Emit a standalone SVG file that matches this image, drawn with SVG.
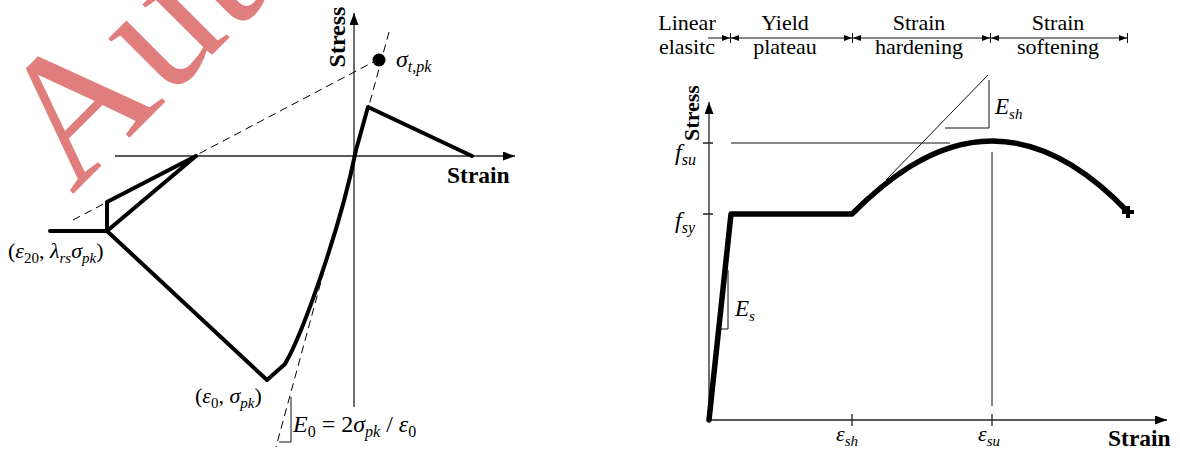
<svg xmlns="http://www.w3.org/2000/svg" width="1180" height="455" viewBox="0 0 1180 455">
<style>
.t{font-family:"Liberation Serif","Times New Roman",serif;fill:#000}
.i{font-style:italic}
.b{font-weight:bold}
.ax{stroke:#222;stroke-width:1.3;fill:none}
.thin{stroke:#111;stroke-width:1;fill:none}
.dash{stroke:#000;stroke-width:1;fill:none;stroke-dasharray:8,5}
.thk{stroke:#000;stroke-width:4;fill:none;stroke-linejoin:round;stroke-linecap:round}
.thk5{stroke:#000;stroke-width:5.5;fill:none;stroke-linejoin:round;stroke-linecap:round}
</style>
<defs>
<marker id="ah" markerUnits="userSpaceOnUse" markerWidth="13" markerHeight="10" refX="12" refY="4.5" orient="auto"><path d="M0,0 L12,4.5 L0,9 z" fill="#000"/></marker>
<marker id="dh" markerUnits="userSpaceOnUse" markerWidth="9" markerHeight="7" refX="8" refY="3" orient="auto-start-reverse"><path d="M0,0 L8,3 L0,6 z" fill="#000"/></marker>
</defs>
<rect width="1180" height="455" fill="#fff"/>
<g id="watermark">
<text class="t" x="0" y="0" transform="translate(72,195) rotate(-45)" font-size="185" style="fill:#e07e7e">Aut</text>
</g>

<!-- LEFT DIAGRAM -->
<g id="left-axes">
<line class="ax" x1="115" y1="156" x2="515" y2="156" marker-end="url(#ah)"/>
<line class="ax" x1="354" y1="407" x2="354" y2="13" marker-end="url(#ah)"/>
<text class="t b" font-size="24" transform="translate(345,37) rotate(-90)" text-anchor="middle">Stress</text>
<text class="t b" x="447" y="183" font-size="23.5">Strain</text>
</g>
<g id="left-connectors">
<line class="dash" x1="73" y1="220" x2="379" y2="59"/>
<line class="dash" x1="389" y1="32" x2="276" y2="447"/>
<path class="thin" d="M279,442 L291,442 L291,397"/>
</g>
<g id="left-curve">
<path class="thk" d="M50,231 L107,231 L107,202 L196,156 M107,231 L196,156 M107,231 L267,380 L285,364 C302,335 340,230 356,150 L368,107 L472,156"/>
<circle cx="379" cy="60" r="6.5" fill="#000"/>
</g>
<g id="left-labels">
<text class="t i" x="396" y="67" font-size="24">σ<tspan font-size="16" dy="5">t,pk</tspan></text>
<text class="t" x="8" y="258" font-size="22">(<tspan class="i">ε</tspan><tspan font-size="15" dy="5">20</tspan><tspan dy="-5">, </tspan><tspan class="i">λ</tspan><tspan class="i" font-size="15" dy="5">rs</tspan><tspan class="i" dy="-5">σ</tspan><tspan class="i" font-size="15" dy="5">pk</tspan><tspan dy="-5">)</tspan></text>
<text class="t" x="195" y="403" font-size="22">(<tspan class="i">ε</tspan><tspan font-size="15" dy="5">0</tspan><tspan dy="-5">, </tspan><tspan class="i">σ</tspan><tspan class="i" font-size="15" dy="5">pk</tspan><tspan dy="-5">)</tspan></text>
<text class="t" x="293" y="432" font-size="24"><tspan class="i">E</tspan><tspan font-size="16" dy="5">0</tspan><tspan dy="-5"> = 2</tspan><tspan class="i">σ</tspan><tspan class="i" font-size="16" dy="5">pk</tspan><tspan dy="-5"> / </tspan><tspan class="i">ε</tspan><tspan font-size="16" dy="5">0</tspan></text>
</g>

<!-- RIGHT DIAGRAM -->
<g id="phases">
<line class="thin" x1="708" y1="38" x2="730" y2="38" marker-end="url(#dh)"/>
<line class="thin" x1="731" y1="38" x2="852" y2="38" marker-start="url(#dh)" marker-end="url(#dh)"/>
<line class="thin" x1="853" y1="38" x2="990" y2="38" marker-start="url(#dh)" marker-end="url(#dh)"/>
<line class="thin" x1="991" y1="38" x2="1127" y2="38" marker-start="url(#dh)" marker-end="url(#dh)"/>
<path class="thin" d="M730.5,33 V43 M852.5,33 V43 M990.5,33 V43 M1127.5,33 V43"/>
<text class="t" font-size="22" text-anchor="middle"><tspan x="687" y="30">Linear</tspan><tspan x="687" y="54">elasitc</tspan></text>
<text class="t" font-size="22" text-anchor="middle"><tspan x="785" y="30">Yield</tspan><tspan x="785" y="54">plateau</tspan></text>
<text class="t" font-size="22" text-anchor="middle"><tspan x="919" y="30">Strain</tspan><tspan x="919" y="54">hardening</tspan></text>
<text class="t" font-size="22" text-anchor="middle"><tspan x="1058" y="30">Strain</tspan><tspan x="1058" y="54">softening</tspan></text>
</g>
<g id="right-axes">
<line class="ax" x1="709" y1="420" x2="1167" y2="420" marker-end="url(#ah)"/>
<line class="ax" x1="709" y1="420" x2="709" y2="102" marker-end="url(#ah)"/>
<path class="ax" d="M703,143 H713 M703,214 H713 M852,414 V426 M992,414 V426"/>
<text class="t b" font-size="22" transform="translate(699,113) rotate(-90)" text-anchor="middle">Stress</text>
<text class="t b" x="1108" y="446" font-size="23.5">Strain</text>
</g>
<g id="right-connectors">
<line class="thin" x1="731" y1="143" x2="950" y2="143"/>
<line class="thin" x1="992" y1="152" x2="992" y2="406"/>
<line class="thin" x1="886" y1="180" x2="988" y2="75"/>
<path class="thin" d="M945,128 H989 V80"/>
<path class="thin" d="M720,329 H728 V270"/>
</g>
<g id="right-curve">
<path class="thk5" d="M709,420 L731,214 L852,214 C880,186 930,141 992,141 C1045,141 1090,172 1128,212"/>
<path d="M1122,212 H1134 M1128,206 V218" stroke="#000" stroke-width="4"/>
</g>
<g id="right-labels">
<text class="t i" x="675" y="160" font-size="24">f<tspan font-size="16" dy="5">su</tspan></text>
<text class="t i" x="675" y="228" font-size="24">f<tspan font-size="16" dy="5">sy</tspan></text>
<text class="t i" x="735" y="316" font-size="23">E<tspan font-size="15" dy="5">s</tspan></text>
<text class="t i" x="995" y="114" font-size="23">E<tspan font-size="15" dy="5">sh</tspan></text>
<text class="t i" x="836" y="441" font-size="22">ε<tspan font-size="15" dy="5">sh</tspan></text>
<text class="t i" x="978" y="441" font-size="22">ε<tspan font-size="15" dy="5">su</tspan></text>
</g>
</svg>
